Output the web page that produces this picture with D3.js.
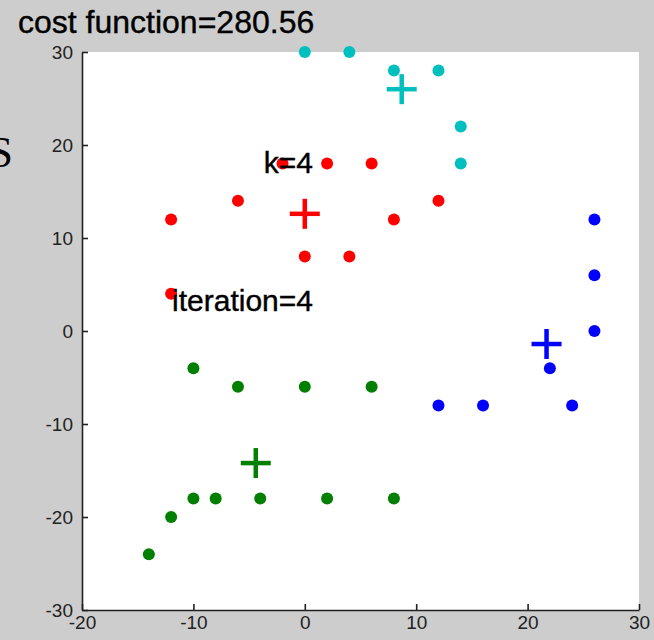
<!DOCTYPE html>
<html>
<head>
<meta charset="utf-8">
<script src="https://cdn.jsdelivr.net/npm/d3@7"></script>
<style>
  html, body { margin: 0; padding: 0; background: #cdcdcd; }
  svg { display: block; }
  .axis path, .axis line { stroke: #222; stroke-width: 1.6px; }
  .axis text { font-family: "Liberation Sans", Arial, sans-serif; font-size: 19px; fill: #222; }
  .label { font-family: "Liberation Sans", Arial, sans-serif; fill: #000; stroke: #000; stroke-width: 0.4px; }
</style>
</head>
<body>
<svg id="chart"></svg>
<script>
// cluster members
const cyanX  = [0, 4, 8, 12, 14, 14];
const cyanY  = [30, 30, 28, 28, 22, 18];
const redX   = [-2, 2, 6, -12, -6, 8, 12, 0, 4, -12];
const redY   = [18, 18, 18, 12, 14, 12, 14, 8, 8, 4];
const blueX  = [26, 26, 26, 22, 12, 16, 24];
const blueY  = [12, 6, 0, -4, -8, -8, -8];
const greenX = [-10, -6, 0, 6, -10, -8, -4, 2, 8, -12, -14];
const greenY = [-4, -6, -6, -6, -18, -18, -18, -18, -18, -20, -24];

// centroids (the + markers)
const centroidX = [8.7, 0, 21.7, -4.4];
const centroidY = [26, 12.6, -1.4, -14.2];
const clusterColors = ['#00bfbf', '#ff0000', '#0000ff', '#007f00'];

const xTicks = [-20, -10, 0, 10, 20, 30];
const yTicks = [-30, -20, -10, 0, 10, 20, 30];

const titleText = 'cost function=280.56';
const kText = 'k=4';
const iterText = 'iteration=4';

const width = 654, height = 640;
const margin = {top: 52, right: 15, bottom: 30, left: 82};

const svg = d3.select('#chart')
    .attr('width', width)
    .attr('height', height);

const innerW = width - margin.left - margin.right;
const innerH = height - margin.top - margin.bottom;

const xScale = d3.scaleLinear().domain([-20, 30]).range([0, innerW]);
const yScale = d3.scaleLinear().domain([-30, 30]).range([innerH, 0]);

// stray serif glyph at the left edge (cut off in the original too)
svg.append('text')
    .attr('x', -12)
    .attr('y', 167)
    .style('font-family', '"Liberation Serif", "Times New Roman", serif')
    .style('font-size', '45px')
    .attr('fill', '#000')
    .text('S');

svg.append('text')
    .attr('class', 'label')
    .attr('x', 18)
    .attr('y', 33)
    .style('font-size', '32px')
    .text(titleText);

const chart = svg.append('g')
    .attr('transform', `translate(${margin.left},${margin.top})`);

// white plot area
chart.append('rect')
    .attr('width', innerW)
    .attr('height', innerH)
    .attr('fill', '#fff');

// axes, ticks pointing inward like matlab, plain hyphen for negatives
const fmt = d => String(d);
const xAxis = d3.axisBottom(xScale).tickValues(xTicks).tickFormat(fmt)
    .tickSize(-6).tickSizeOuter(0).tickPadding(4);
const yAxis = d3.axisLeft(yScale).tickValues(yTicks).tickFormat(fmt)
    .tickSize(-6).tickSizeOuter(0).tickPadding(9);

chart.append('g')
    .attr('class', 'axis x-axis')
    .attr('transform', `translate(0,${innerH})`)
    .call(xAxis)
    .selectAll('text').attr('dy', '0.78em');

chart.append('g')
    .attr('class', 'axis y-axis')
    .call(yAxis);

// points per cluster
const clusters = [
  {xs: cyanX, ys: cyanY},
  {xs: redX, ys: redY},
  {xs: blueX, ys: blueY},
  {xs: greenX, ys: greenY}
];

clusters.forEach((c, i) => {
  const pts = c.xs.map((x, j) => ({x: x, y: c.ys[j]}));
  chart.append('g').selectAll('circle')
      .data(pts)
    .join('circle')
      .attr('cx', d => xScale(d.x))
      .attr('cy', d => yScale(d.y))
      .attr('r', 6)
      .attr('fill', clusterColors[i]);
});

// centroid crosses
const cents = centroidX.map((x, i) => ({x: x, y: centroidY[i], color: clusterColors[i]}));
const arm = 15;
const crosses = chart.append('g').selectAll('g')
    .data(cents)
  .join('g')
    .attr('transform', d => `translate(${xScale(d.x)},${yScale(d.y)})`);
crosses.append('line')
    .attr('x1', -arm).attr('x2', arm)
    .attr('stroke', d => d.color).attr('stroke-width', 4.5);
crosses.append('line')
    .attr('y1', -arm).attr('y2', arm)
    .attr('stroke', d => d.color).attr('stroke-width', 4.5);

// annotations on top
svg.append('text')
    .attr('class', 'label')
    .attr('x', 313).attr('y', 173)
    .attr('text-anchor', 'end')
    .style('font-size', '30px')
    .text(kText);

svg.append('text')
    .attr('class', 'label')
    .attr('x', 313).attr('y', 311)
    .attr('text-anchor', 'end')
    .style('font-size', '30px')
    .text(iterText);
</script>
</body>
</html>
